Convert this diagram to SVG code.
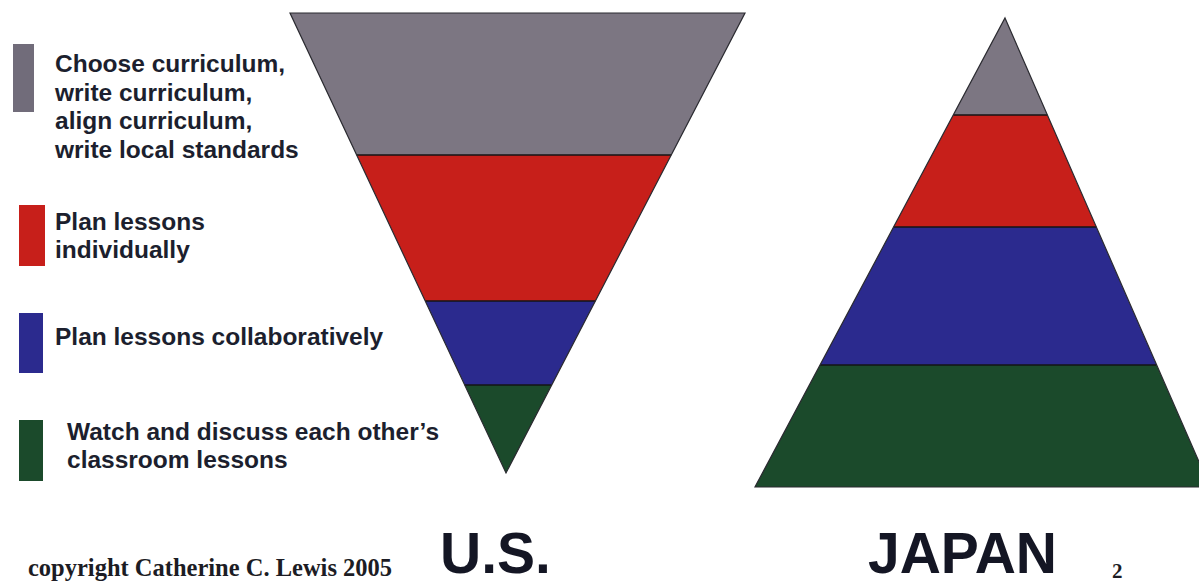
<svg xmlns="http://www.w3.org/2000/svg" width="1199" height="586" viewBox="0 0 1199 586">
<style>
.lg{font-family:"Liberation Sans",Arial,sans-serif;font-weight:bold;font-size:24.5px;fill:#1c1f2e}
.big{font-family:"Liberation Sans",Arial,sans-serif;font-weight:bold;font-size:57px;fill:#141624}
.cp{font-family:"Liberation Serif","Times New Roman",serif;font-weight:bold;font-size:24.5px;fill:#1c1c24}
.gray{fill:#7c7682}
.red{fill:#c71f1a}
.blue{fill:#2b2a8e}
.green{fill:#1b4a2b}
.edge{fill:none;stroke:#2a2a30;stroke-width:1.2}
.div{stroke:#151515;stroke-width:1.5}
</style>
<rect width="1199" height="586" fill="#ffffff"/>
<g id="legend-gray">
<rect class="gray" x="13" y="44" width="21" height="68" style="fill:#716c7a"/>
<text class="lg" x="55" y="72">Choose curriculum,</text>
<text class="lg" x="55" y="101">write curriculum,</text>
<text class="lg" x="55" y="129">align curriculum,</text>
<text class="lg" x="55" y="158">write local standards</text>
</g>
<g id="legend-red">
<rect class="red" x="19" y="205" width="26" height="61"/>
<text class="lg" x="55" y="230">Plan lessons</text>
<text class="lg" x="55" y="258">individually</text>
</g>
<g id="legend-blue">
<rect class="blue" x="19" y="313" width="24" height="60"/>
<text class="lg" x="55" y="345">Plan lessons collaboratively</text>
</g>
<g id="legend-green">
<rect class="green" x="19" y="420" width="24" height="61"/>
<text class="lg" x="67" y="440">Watch and discuss each other’s</text>
<text class="lg" x="67" y="468">classroom lessons</text>
</g>
<g id="us-pyramid">
<polygon class="gray" points="290,13 745,13 671.2,155 356.7,155"/>
<polygon class="red" points="356.7,155 671.2,155 595.4,301 425.2,301"/>
<polygon class="blue" points="425.2,301 595.4,301 551.7,385 464.7,385"/>
<polygon class="green" points="464.7,385 551.7,385 506,473"/>
<line class="div" x1="356.7" y1="155" x2="671.2" y2="155"/>
<line class="div" x1="425.2" y1="301" x2="595.4" y2="301"/>
<line class="div" x1="464.7" y1="385" x2="551.7" y2="385"/>
<polygon class="edge" points="290,13 745,13 506,473"/>
</g>
<g id="japan-pyramid">
<polygon class="gray" points="1005,18 1047.4,115 953.3,115"/>
<polygon class="red" points="953.3,115 1047.4,115 1096.3,227 893.6,227"/>
<polygon class="blue" points="893.6,227 1096.3,227 1156.6,365 820,365"/>
<polygon class="green" points="820,365 1156.6,365 1210,487 755,487"/>
<line class="div" x1="953.3" y1="115" x2="1047.4" y2="115"/>
<line class="div" x1="893.6" y1="227" x2="1096.3" y2="227"/>
<line class="div" x1="820" y1="365" x2="1156.6" y2="365"/>
<polygon class="edge" points="1005,18 1210,487 755,487"/>
</g>
<g id="labels">
<text class="cp" x="28" y="576">copyright Catherine C. Lewis 2005</text>
<text class="big" x="440" y="573">U.S.</text>
<text class="big" x="868" y="573">JAPAN</text>
<text class="cp" x="1112" y="578" style="font-size:21px">2</text>
</g>
</svg>
